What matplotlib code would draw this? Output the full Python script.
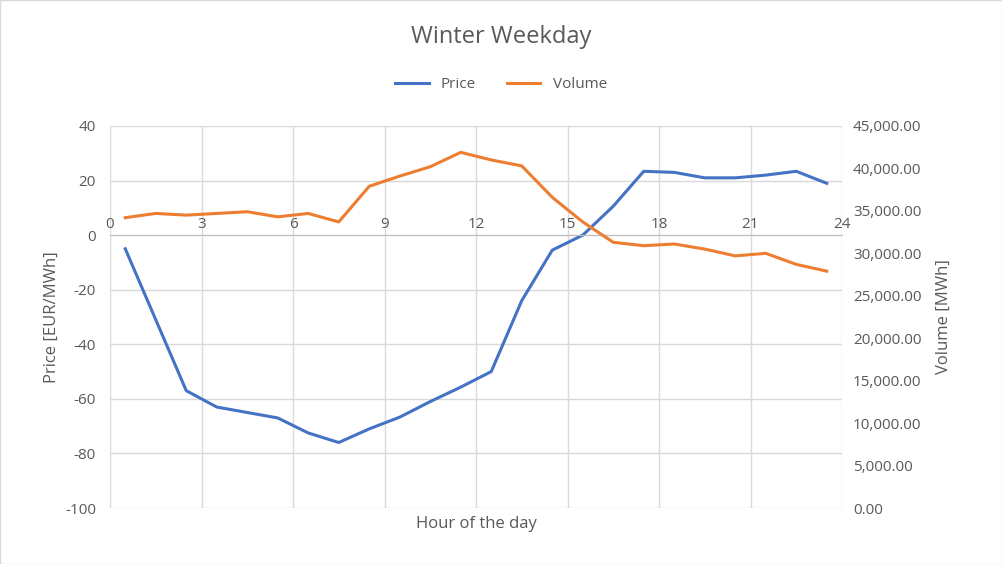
import matplotlib
matplotlib.use("Agg")
import matplotlib.pyplot as plt
from matplotlib.patches import Rectangle

hours = [h + 0.5 for h in range(24)]
price = [-5, -31, -57, -63, -65, -67, -72.5, -76, -71, -66.7, -61, -55.7, -50, -24, -5.5, 0,
         10.6, 23.4, 23, 21, 21, 22, 23.4, 19]
volume = [34200, 34700, 34500, 34700, 34900, 34300, 34700, 33700, 37900, 39100, 40200, 41900,
          41000, 40300, 36600, 33700, 31300, 30900, 31100, 30500, 29700, 30000, 28700, 27900]
xticks = [0, 3, 6, 9, 12, 15, 18, 21, 24]

plt.rcParams['font.family'] = ['Open Sans', 'DejaVu Sans']
plt.rcParams['axes.unicode_minus'] = False
tc = '#595959'
fig = plt.figure(figsize=(10.02, 5.64), dpi=100)
fig.patches.append(Rectangle((0, 0), 1, 1, transform=fig.transFigure, fill=False,
                             edgecolor='#d9d9d9', lw=1))
ax = fig.add_axes([110/1002, 56/564, 732/1002, 382/564])
ax2 = ax.twinx()

l1, = ax.plot(hours, price, color='#4472C4', lw=2.2, label='Price')
l2, = ax2.plot(hours, volume, color='#ED7D31', lw=2.2, label='Volume')

ax.set_xlim(0, 24)
ax.set_ylim(-100, 40)
ax.set_xticks(xticks)
ax.set_yticks(range(-100, 41, 20))
ax2.set_ylim(0, 45000)
ax2.set_yticks(range(0, 45001, 5000))
ax2.set_yticklabels([f"{v:,.2f}" for v in range(0, 45001, 5000)])
ax.grid(True, color='#d9d9d9', lw=1)
ax.set_axisbelow(True)
for a in (ax, ax2):
    for s in a.spines.values():
        s.set_visible(False)
    a.tick_params(length=0, labelsize=11, colors=tc)
ax.spines['bottom'].set_visible(True)
ax.spines['bottom'].set_position(('data', 0))
ax.spines['bottom'].set_color('#bfbfbf')
for lbl in ax.get_xticklabels():
    lbl.set_verticalalignment('bottom')
ax.tick_params(axis='x', pad=-2)
ax2.tick_params(axis='y', pad=8)
ax.tick_params(axis='y', pad=10)

ax.set_ylabel('Price [EUR/MWh]', fontsize=12, color=tc)
ax2.set_ylabel('Volume [MWh]', fontsize=12, color=tc, labelpad=10)
fig.text((110+842)/2/1002, 1-524/564, 'Hour of the day', ha='center', va='center', fontsize=12, color=tc)
fig.text(0.5, 1-37/564, 'Winter Weekday', ha='center', va='center', fontsize=17, color=tc)
fig.legend(handles=[l1, l2], loc='center', bbox_to_anchor=(0.5, 1-85/564), ncol=2,
           frameon=False, fontsize=11, labelcolor=tc, handlelength=2.2)
fig.savefig('out.png', dpi=100)
